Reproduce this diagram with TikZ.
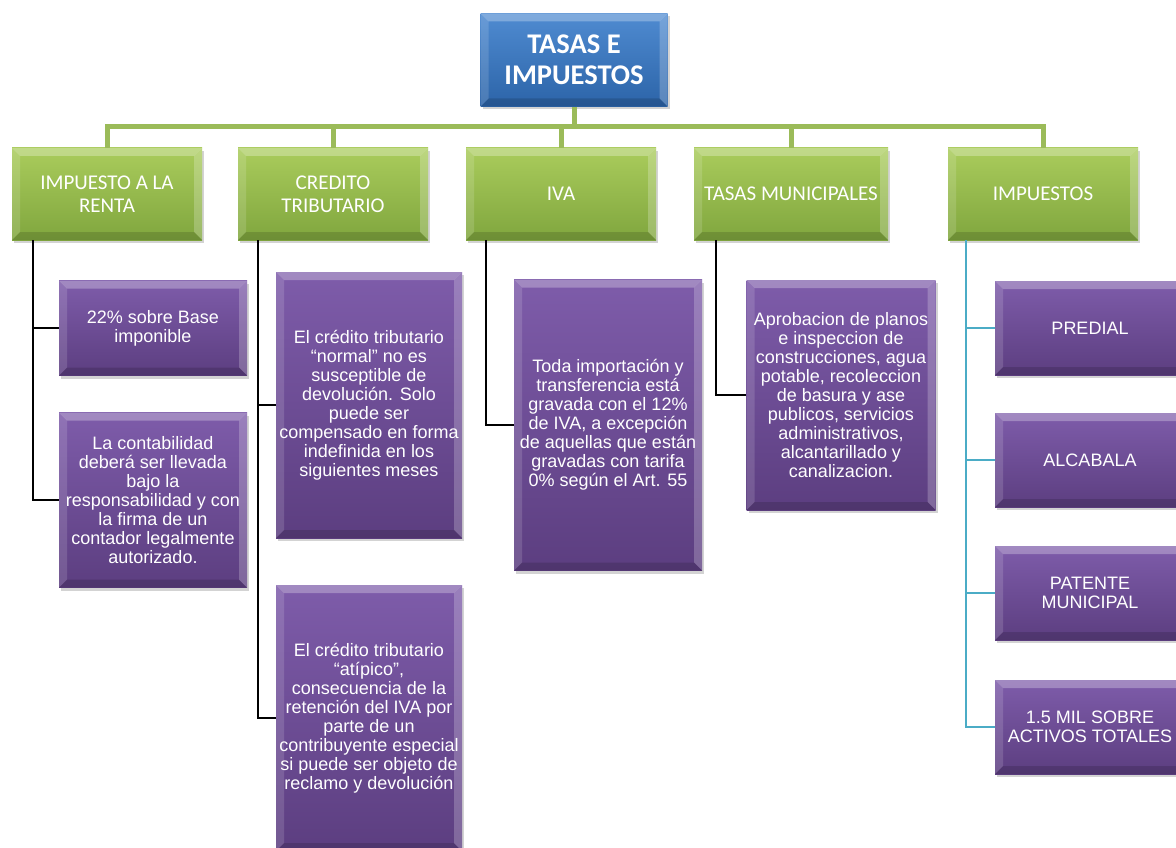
\documentclass[tikz,border=0pt]{standalone}
\usepackage{fontspec}
\setmainfont{Liberation Sans}
\newfontfamily\calibri{Carlito}
\usetikzlibrary{shadows}
\definecolor{rootTop}{RGB}{79,139,209}
\definecolor{rootBot}{RGB}{44,100,168}
\definecolor{headTop}{RGB}{170,204,92}
\definecolor{headBot}{RGB}{128,166,62}
\definecolor{leafTop}{RGB}{126,92,170}
\definecolor{leafBot}{RGB}{92,62,128}
\definecolor{trunkgreen}{RGB}{155,187,89}
\definecolor{linecyan}{RGB}{75,172,198}

% bevel look of the boxes
\newcommand\bevelfx{%
  \path (path picture bounding box.north west) coordinate (bNW)
        (path picture bounding box.north east) coordinate (bNE)
        (path picture bounding box.south west) coordinate (bSW)
        (path picture bounding box.south east) coordinate (bSE);
  \fill[white,opacity=0.28] (bNW) -- (bNE) -- ([shift={(-8pt,-8pt)}]bNE)
        -- ([shift={(8pt,-8pt)}]bNW) -- cycle;
  \fill[white,opacity=0.14] (bNW) -- ([shift={(8pt,-8pt)}]bNW)
        -- ([shift={(8pt,8pt)}]bSW) -- (bSW) -- cycle;
  \fill[white,opacity=0.22] (bNE) -- ([shift={(-8pt,-8pt)}]bNE)
        -- ([shift={(-8pt,8pt)}]bSE) -- (bSE) -- cycle;
  \fill[black,opacity=0.14] (bSW) -- ([shift={(8pt,8pt)}]bSW)
        -- ([shift={(-8pt,8pt)}]bSE) -- (bSE) -- cycle;
}

\begin{document}
\begin{tikzpicture}[x=1pt,y=-1pt,
  box/.style={rectangle, align=center, text=white, inner sep=2pt,
    drop shadow={opacity=0.35,shadow xshift=2pt,shadow yshift=-3pt},
    path picture={\bevelfx}},
  rootbox/.style={box, top color=rootTop, bottom color=rootBot,
    minimum width=187pt, minimum height=93pt,
    font=\calibri\bfseries\fontsize{28.5}{31}\selectfont},
  headbox/.style={box, top color=headTop, bottom color=headBot,
    minimum width=190pt, minimum height=92pt,
    font=\calibri\fontsize{21}{23}\selectfont},
  leafbox/.style={box, top color=leafTop, bottom color=leafBot,
    minimum width=188pt, font=\fontsize{18}{19}\selectfont},
  trunk/.style={line width=5pt, draw=trunkgreen},
  elbow/.style={line width=1.6pt, draw=black},
  cyanelbow/.style={line width=1.6pt, draw=linecyan}]

\useasboundingbox (0,0) rectangle (1176,848);

\def\headY{194}

%---------------------------------------
% Root and first level
%---------------------------------------
\node[rootbox] (root) at (574,60) {TASAS E\\IMPUESTOS};

\node[headbox] (renta) at (107,\headY) {IMPUESTO A LA\\RENTA};
\node[headbox] (cred)  at (333,\headY) {CREDITO\\TRIBUTARIO};
\node[headbox] (iva)   at (561,\headY) {IVA};
\node[headbox, minimum width=194pt] (tasas) at (791,\headY) {TASAS MUNICIPALES};
\node[headbox] (imp)   at (1043,\headY) {IMPUESTOS};

% green connectors
\coordinate (bus) at (574,127);
\draw[trunk] (root.south) -- (bus);
\draw[trunk] (renta.north) |- (bus) -| (imp.north);
\foreach \n in {cred,iva,tasas}
  \draw[trunk] (\n.north) -- (\n.north |- bus);

%---------------------------------------
% Impuesto a la renta
%---------------------------------------
\node[leafbox, minimum height=95pt] (renta1) at (153,328)
  {22\% sobre Base\\imponible};
\node[leafbox, minimum height=175pt] (renta2) at (153,500)
  {La contabilidad\\deberá ser llevada\\bajo la\\responsabilidad y con\\la firma de un\\contador legalmente\\autorizado.};
\draw[elbow] ([xshift=21pt]renta.south west) |- (renta1.west);
\draw[elbow] ([xshift=21pt]renta.south west) |- (renta2.west);

%---------------------------------------
% Credito tributario
%---------------------------------------
\node[leafbox, minimum width=186pt, minimum height=266pt] (cred1) at (369,405)
  {El crédito tributario\\“normal” no es\\susceptible de\\devolución. Solo\\puede ser\\compensado en forma\\indefinida en los\\siguientes meses};
\node[leafbox, minimum width=186pt, minimum height=266pt] (cred2) at (369,718)
  {El crédito tributario\\“atípico”,\\consecuencia de la\\retención del IVA por\\parte de un\\contribuyente especial\\si puede ser objeto de\\reclamo y devolución};
\draw[elbow] ([xshift=20pt]cred.south west) |- (cred1.west);
\draw[elbow] ([xshift=20pt]cred.south west) |- (cred2.west);

%---------------------------------------
% IVA
%---------------------------------------
\node[leafbox, minimum height=291pt] (iva1) at (608,425)
  {Toda importación y\\transferencia está\\gravada con el 12\%\\de IVA, a excepción\\de aquellas que están\\gravadas con tarifa\\0\% según el Art. 55};
\draw[elbow] ([xshift=20pt]iva.south west) |- (iva1.west);

%---------------------------------------
% Tasas municipales
%---------------------------------------
\node[leafbox, minimum width=189pt, minimum height=230pt] (tasas1) at (841,395)
  {Aprobacion de planos\\e inspeccion de\\construcciones, agua\\potable, recoleccion\\de basura y ase\\publicos, servicios\\administrativos,\\alcantarillado y\\canalizacion.};
\draw[elbow] ([xshift=22pt]tasas.south west) |- (tasas1.west);

%---------------------------------------
% Impuestos
%---------------------------------------
\node[leafbox, minimum width=190pt, minimum height=94pt] (imp1) at (1090,328) {PREDIAL};
\node[leafbox, minimum width=190pt, minimum height=94pt] (imp2) at (1090,460) {ALCABALA};
\node[leafbox, minimum width=190pt, minimum height=94pt] (imp3) at (1090,593) {PATENTE\\MUNICIPAL};
\node[leafbox, minimum width=190pt, minimum height=94pt] (imp4) at (1090,727) {1.5 MIL SOBRE\\ACTIVOS TOTALES};
\foreach \n in {imp1,imp2,imp3,imp4}
  \draw[cyanelbow] ([xshift=18pt]imp.south west) |- (\n.west);

\end{tikzpicture}
\end{document}
